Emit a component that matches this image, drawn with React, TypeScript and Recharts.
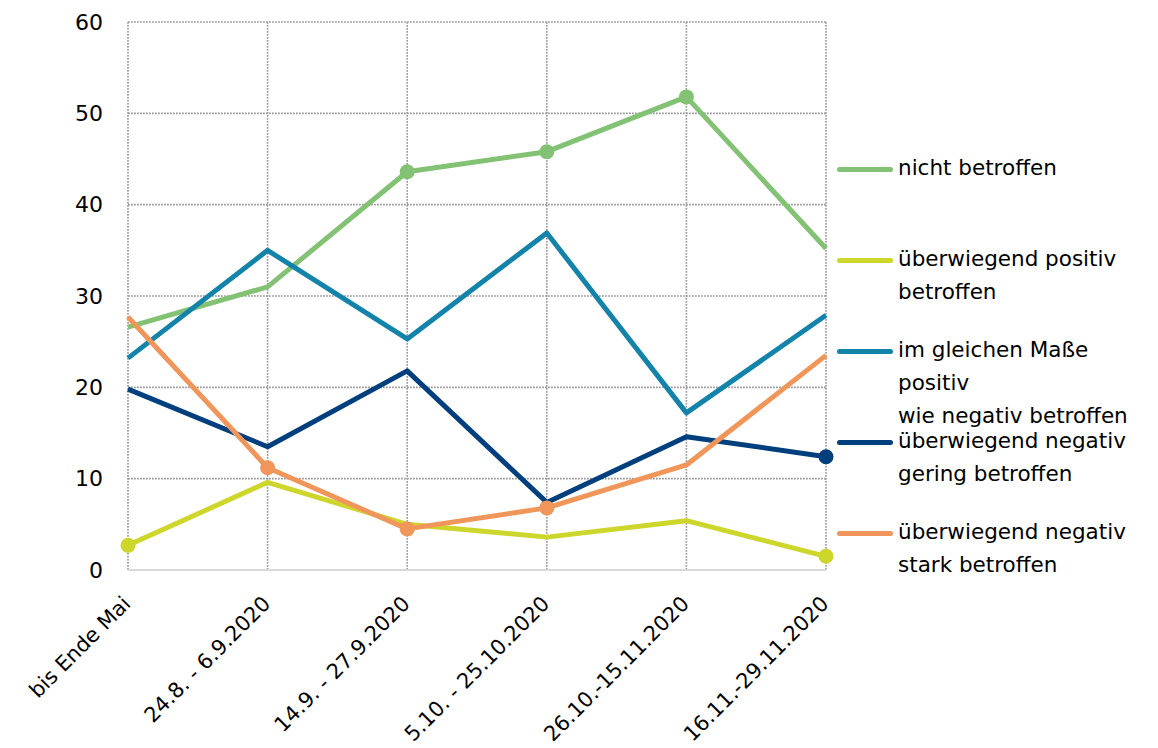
import React from 'react';
import { LineChart, Line, XAxis, YAxis, CartesianGrid, Legend } from 'recharts';

const categories = [
  'bis Ende Mai',
  '24.8. - 6.9.2020',
  '14.9. - 27.9.2020',
  '5.10. - 25.10.2020',
  '26.10.-15.11.2020',
  '16.11.-29.11.2020',
];

const nichtBetroffen = [26.6, 31.0, 43.6, 45.8, 51.8, 35.2];
const positivBetroffen = [2.7, 9.6, 5.0, 3.6, 5.4, 1.5];
const gleichBetroffen = [23.2, 35.0, 25.3, 36.9, 17.2, 27.9];
const negativGering = [19.8, 13.5, 21.8, 7.4, 14.6, 12.4];
const negativStark = [27.7, 11.2, 4.5, 6.8, 11.5, 23.5];

const markNicht = [false, false, true, true, true, false];
const markPositiv = [true, false, false, false, false, true];
const markGleich = [false, false, false, false, false, false];
const markGering = [false, false, false, false, false, true];
const markStark = [false, true, true, true, false, false];

const yTicks = [0, 10, 20, 30, 40, 50, 60];

const series = [
  { key: 'nicht', name: 'nicht betroffen', color: '#83C274', values: nichtBetroffen, marks: markNicht },
  { key: 'positiv', name: 'überwiegend positiv\nbetroffen', color: '#CDD62B', values: positivBetroffen, marks: markPositiv },
  { key: 'gleich', name: 'im gleichen Maße\npositiv\nwie negativ betroffen', color: '#1383A9', values: gleichBetroffen, marks: markGleich },
  { key: 'gering', name: 'überwiegend negativ\ngering betroffen', color: '#003F7E', values: negativGering, marks: markGering },
  { key: 'stark', name: 'überwiegend negativ\nstark betroffen', color: '#F0965A', values: negativStark, marks: markStark },
];

const data = categories.map((c, i) => {
  const row: Record<string, any> = { cat: c };
  series.forEach((s) => {
    row[s.key] = s.values[i];
  });
  return row;
});

const FONT = '"DejaVu Sans", sans-serif';

const XTick = (props: any) => {
  const { x, y, payload } = props;
  return (
    <g transform={`translate(${x + 4},${y + 27})`}>
      <text textAnchor="end" transform="rotate(-45)" fontSize={21} fontFamily={FONT} fill="#000">
        {payload.value}
      </text>
    </g>
  );
};

const LegendContent = () => (
  <div style={{ fontFamily: FONT, fontSize: 21.5, color: '#000' }}>
    {series.map((s) => (
      <div key={s.key} style={{ position: 'relative', height: 91 }}>
        <div
          style={{
            position: 'absolute',
            left: 0,
            top: 16,
            width: 56,
            height: 5,
            borderRadius: 3,
            background: s.color,
          }}
        />
        <div style={{ position: 'absolute', left: 61, top: 0, lineHeight: '33px', whiteSpace: 'nowrap' }}>
          {s.name.split('\n').map((l, i) => (
            <div key={i}>{l}</div>
          ))}
        </div>
      </div>
    ))}
  </div>
);

const makeDot = (marks: boolean[], color: string, k: string) => (props: any) => {
  const { cx, cy, index } = props;
  if (!marks[index] || cx == null || cy == null) return <g key={`${k}-d-${index}`} />;
  return <circle key={`${k}-d-${index}`} cx={cx} cy={cy} r={7.5} fill={color} stroke="none" />;
};

export default function App() {
  return (
    <div style={{ position: 'absolute', left: 0, top: 0, width: 1158, height: 748, background: '#fff' }}>
      <LineChart width={1158} height={748} data={data} margin={{ top: 22, right: 332, bottom: 0, left: 0 }}>
        <CartesianGrid stroke="#9A9A9A" strokeWidth={1.6} strokeDasharray="1.8 1.2" vertical horizontal />
        <XAxis
          dataKey="cat"
          height={178}
          interval={0}
          tickLine={false}
          axisLine={{ stroke: '#D9D9D9', strokeWidth: 2 }}
          tick={<XTick />}
        />
        <YAxis
          width={128}
          domain={[0, 60]}
          ticks={yTicks}
          axisLine={false}
          tickLine={false}
          tickMargin={19}
          tick={{ fontSize: 22, fontFamily: FONT, fill: '#000' }}
        />
        <Legend
          layout="vertical"
          align="center"
          verticalAlign="middle"
          content={<LegendContent />}
          wrapperStyle={{ left: 837, top: 151, width: 320, height: 480 }}
        />
        {series.map((s) => (
          <Line
            key={s.key}
            type="linear"
            dataKey={s.key}
            name={s.name}
            stroke={s.color}
            strokeWidth={5}
            strokeLinejoin="round"
            dot={makeDot(s.marks, s.color, s.key)}
            activeDot={false}
            isAnimationActive={false}
          />
        ))}
      </LineChart>
    </div>
  );
}
